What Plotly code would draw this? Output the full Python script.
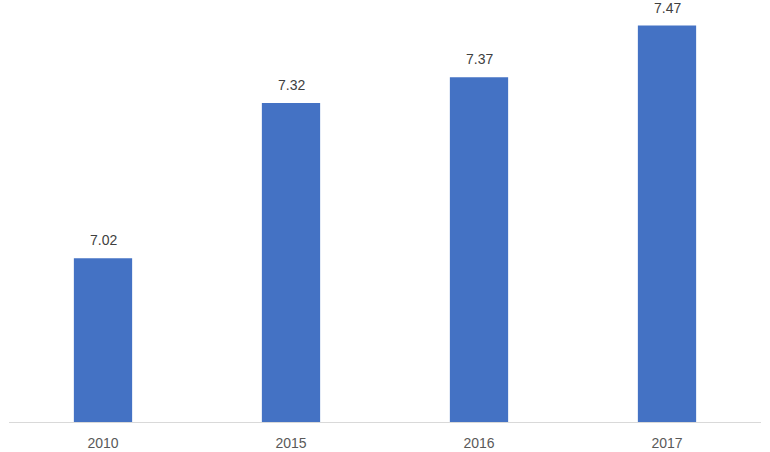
import plotly.graph_objects as go

categories = ["2010", "2015", "2016", "2017"]
values = [7.02, 7.32, 7.37, 7.47]
labels = ["7.02", "7.32", "7.37", "7.47"]

FONT = "Liberation Sans, Arial, sans-serif"

fig = go.Figure()
fig.add_trace(go.Bar(
    x=categories, y=values, width=0.31,
    marker=dict(color="#4472C4", line=dict(width=0)),
    hoverinfo="skip",
))
for i, (v, t) in enumerate(zip(values, labels)):
    fig.add_annotation(x=i, y=v, xref="x", yref="y", text=t, showarrow=False,
                       yanchor="bottom", yshift=8,
                       font=dict(family=FONT, size=14, color="#404040"))
fig.update_layout(
    width=770, height=452,
    margin=dict(l=9, r=9, t=10, b=30, autoexpand=False),
    paper_bgcolor="white", plot_bgcolor="white",
    showlegend=False,
    xaxis=dict(type="category", range=[-0.5, len(categories) - 0.5], automargin=False,
               showline=True, linecolor="#d9d9d9", linewidth=1, showgrid=False,
               ticks="", ticklabelstandoff=8,
               tickfont=dict(family=FONT, size=14, color="#595959")),
    yaxis=dict(range=[6.703, 7.5], visible=False, showgrid=False, zeroline=False,
               automargin=False),
)
fig.write_html("out.html", config={"displayModeBar": False},
               post_script="document.body.style.margin='0';document.body.style.overflow='hidden';")
